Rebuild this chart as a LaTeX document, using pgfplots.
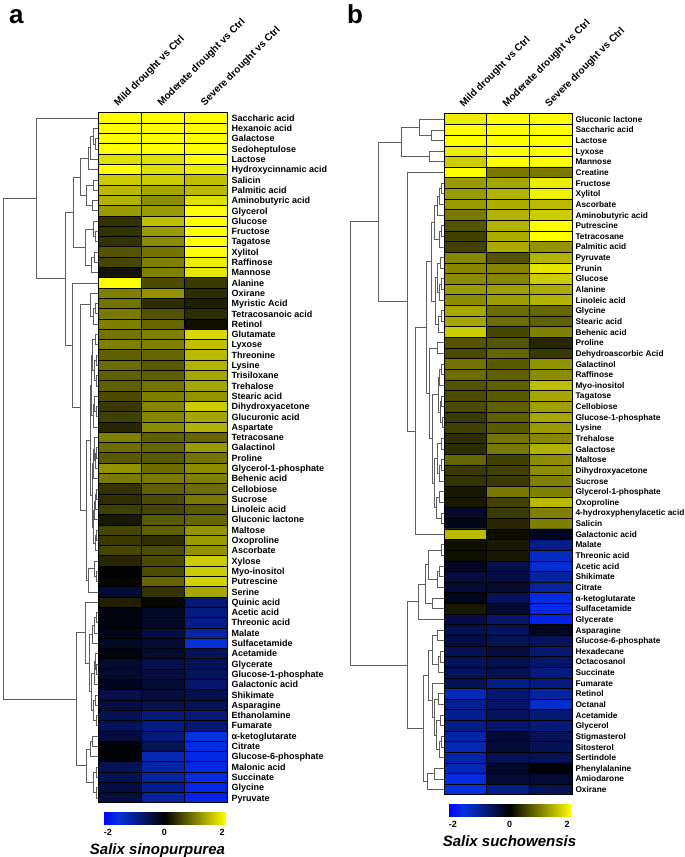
\documentclass[border=0pt]{standalone}
\usepackage{pgfplots}
\pgfplotsset{compat=1.18}
\usepackage{fontspec}
\setmainfont{Liberation Sans}
\pgfplotsset{colormap={bky}{rgb255(0cm)=(0,0,255) rgb255(1cm)=(5,50,222) rgb255(2cm)=(5,32,152) rgb255(3cm)=(5,16,76) rgb255(4cm)=(0,0,0) rgb255(8cm)=(255,255,0)}}
\definecolor{dgray}{RGB}{95,95,95}
\pgfplotsset{
  dend/.style={draw=dgray, line width=0.85pt, forget plot, mark=none},
  hm/.style={scale only axis, anchor=south west, xmin=-0.5, xmax=2.5,
    xtick={0,1,2},
    xticklabels={Mild drought vs Ctrl,Moderate drought vs Ctrl,Severe drought vs Ctrl},
    xticklabel pos=upper,
    xticklabel style={rotate=45, anchor=south west, font=\bfseries\fontsize{10}{12}\selectfont},
    yticklabel pos=right,
    major tick length=0pt, minor tick length=0pt,
    minor x tick num=1, minor y tick num=1,
    grid=minor,
    minor grid style={black, line width=0.8pt},
    axis on top, axis line style={black, line width=1pt},
    colormap name=bky, point meta min=-2, point meta max=2,
    colorbar horizontal},
  cbar/.style={scale only axis, width=123pt, height=12pt,
    xtick={-1.84,0,1.87}, xticklabels={-2,0,2}, grid=none,
    xticklabel style={font=\bfseries\fontsize{9}{10}\selectfont, inner sep=1pt, yshift=-4pt},
    major tick length=0pt, axis line style={draw=none},
    xlabel style={font=\bfseries\itshape\fontsize{15}{16}\selectfont, inner sep=0pt, yshift=-7pt}}
}
\begin{document}
\begin{tikzpicture}
\path[use as bounding box] (0,0) rectangle (685pt,857pt);
% ---------------- dendrograms (pixel coordinates) ----------------
\begin{axis}[at={(0pt,0pt)}, anchor=south west, scale only axis, width=685pt, height=857pt,
  xmin=0, xmax=685, ymin=0, ymax=857, y dir=reverse, hide axis, clip=false]
\node[anchor=base west, font=\bfseries\fontsize{26}{26}\selectfont, inner sep=0pt] at (axis cs:9,23) {a};
\node[anchor=base west, font=\bfseries\fontsize{26}{26}\selectfont, inner sep=0pt] at (axis cs:347,23) {b};
% panel a
\addplot[dend] coordinates {(98,138.8)(95,138.8)(95,149.1)(98,149.1)};
\addplot[dend] coordinates {(98,128.5)(93,128.5)(93,144.0)(95,144.0)};
\addplot[dend] coordinates {(93,136.2)(90,136.2)(90,159.4)(98,159.4)};
\addplot[dend] coordinates {(90,147.8)(88,147.8)(88,169.7)(98,169.7)};
\addplot[dend] coordinates {(98,180.0)(93,180.0)(93,190.3)(98,190.3)};
\addplot[dend] coordinates {(98,200.6)(92,200.6)(92,210.9)(98,210.9)};
\addplot[dend] coordinates {(93,185.2)(86,185.2)(86,205.8)(92,205.8)};
\addplot[dend] coordinates {(88,158.8)(80,158.8)(80,195.5)(86,195.5)};
\addplot[dend] coordinates {(98,231.5)(95,231.5)(95,241.8)(98,241.8)};
\addplot[dend] coordinates {(98,221.2)(93,221.2)(93,236.7)(95,236.7)};
\addplot[dend] coordinates {(98,252.1)(94,252.1)(94,262.4)(98,262.4)};
\addplot[dend] coordinates {(94,257.3)(91,257.3)(91,272.7)(98,272.7)};
\addplot[dend] coordinates {(93,229.0)(85,229.0)(85,265.0)(91,265.0)};
\addplot[dend] coordinates {(80,177.2)(73,177.2)(73,247.0)(85,247.0)};
\addplot[dend] coordinates {(98,303.6)(95,303.6)(95,313.9)(98,313.9)};
\addplot[dend] coordinates {(95,308.8)(93,308.8)(93,324.2)(98,324.2)};
\addplot[dend] coordinates {(98,293.3)(90,293.3)(90,316.5)(93,316.5)};
\addplot[dend] coordinates {(98,334.5)(95,334.5)(95,344.8)(98,344.8)};
\addplot[dend] coordinates {(98,355.1)(96,355.1)(96,365.4)(98,365.4)};
\addplot[dend] coordinates {(98,375.7)(96,375.7)(96,386.0)(98,386.0)};
\addplot[dend] coordinates {(96,360.3)(94,360.3)(94,380.9)(96,380.9)};
\addplot[dend] coordinates {(95,339.7)(92,339.7)(92,370.6)(94,370.6)};
\addplot[dend] coordinates {(98,406.6)(96,406.6)(96,416.9)(98,416.9)};
\addplot[dend] coordinates {(98,396.3)(94,396.3)(94,411.8)(96,411.8)};
\addplot[dend] coordinates {(94,404.1)(93,404.1)(93,427.2)(98,427.2)};
\addplot[dend] coordinates {(92,355.2)(91,355.2)(91,415.7)(93,415.7)};
\addplot[dend] coordinates {(98,447.8)(96,447.8)(96,458.1)(98,458.1)};
\addplot[dend] coordinates {(96,453.0)(95,453.0)(95,468.4)(98,468.4)};
\addplot[dend] coordinates {(98,437.5)(94,437.5)(94,460.7)(95,460.7)};
\addplot[dend] coordinates {(94,449.1)(93,449.1)(93,478.7)(98,478.7)};
\addplot[dend] coordinates {(98,489.0)(96,489.0)(96,499.3)(98,499.3)};
\addplot[dend] coordinates {(96,494.2)(95,494.2)(95,509.6)(98,509.6)};
\addplot[dend] coordinates {(95,501.9)(94,501.9)(94,519.9)(98,519.9)};
\addplot[dend] coordinates {(98,530.2)(96,530.2)(96,540.5)(98,540.5)};
\addplot[dend] coordinates {(96,535.4)(95,535.4)(95,550.8)(98,550.8)};
\addplot[dend] coordinates {(94,510.9)(93,510.9)(93,543.1)(95,543.1)};
\addplot[dend] coordinates {(93,463.9)(92,463.9)(92,527.0)(93,527.0)};
\addplot[dend] coordinates {(91,385.5)(90,385.5)(90,495.5)(92,495.5)};
\addplot[dend] coordinates {(98,571.4)(96,571.4)(96,581.7)(98,581.7)};
\addplot[dend] coordinates {(98,561.1)(94,561.1)(94,576.6)(96,576.6)};
\addplot[dend] coordinates {(94,568.9)(88,568.9)(88,592.0)(98,592.0)};
\addplot[dend] coordinates {(90,440.5)(86,440.5)(86,580.5)(88,580.5)};
\addplot[dend] coordinates {(90,304.9)(80,304.9)(80,510.5)(86,510.5)};
\addplot[dend] coordinates {(98,283.0)(72,283.0)(72,407.7)(80,407.7)};
\addplot[dend] coordinates {(73,212.1)(65,212.1)(65,345.4)(72,345.4)};
\addplot[dend] coordinates {(98,118.2)(36,118.2)(36,278.8)(65,278.8)};
\addplot[dend] coordinates {(98,612.6)(96,612.6)(96,622.9)(98,622.9)};
\addplot[dend] coordinates {(96,617.8)(94,617.8)(94,633.2)(98,633.2)};
\addplot[dend] coordinates {(94,625.5)(92,625.5)(92,643.5)(98,643.5)};
\addplot[dend] coordinates {(98,664.1)(96,664.1)(96,674.4)(98,674.4)};
\addplot[dend] coordinates {(98,653.8)(95,653.8)(95,669.3)(96,669.3)};
\addplot[dend] coordinates {(95,661.6)(94,661.6)(94,684.7)(98,684.7)};
\addplot[dend] coordinates {(98,695.0)(95,695.0)(95,705.3)(98,705.3)};
\addplot[dend] coordinates {(98,715.6)(96,715.6)(96,725.9)(98,725.9)};
\addplot[dend] coordinates {(95,700.2)(93,700.2)(93,720.8)(96,720.8)};
\addplot[dend] coordinates {(94,673.2)(91,673.2)(91,710.5)(93,710.5)};
\addplot[dend] coordinates {(92,634.5)(89,634.5)(89,691.9)(91,691.9)};
\addplot[dend] coordinates {(98,602.3)(85,602.3)(85,663.2)(89,663.2)};
\addplot[dend] coordinates {(98,736.2)(92,736.2)(92,746.5)(98,746.5)};
\addplot[dend] coordinates {(92,741.4)(90,741.4)(90,756.8)(98,756.8)};
\addplot[dend] coordinates {(98,767.1)(96,767.1)(96,777.4)(98,777.4)};
\addplot[dend] coordinates {(98,787.7)(96,787.7)(96,798.0)(98,798.0)};
\addplot[dend] coordinates {(96,772.3)(93,772.3)(93,792.9)(96,792.9)};
\addplot[dend] coordinates {(90,749.1)(86,749.1)(86,782.6)(93,782.6)};
\addplot[dend] coordinates {(85,632.8)(76,632.8)(76,765.9)(86,765.9)};
\addplot[dend] coordinates {(36,198.5)(3,198.5)(3,699.4)(76,699.4)};
% panel b
\addplot[dend] coordinates {(444,130.0)(431,130.0)(431,140.6)(444,140.6)};
\addplot[dend] coordinates {(444,119.3)(419,119.3)(419,135.3)(431,135.3)};
\addplot[dend] coordinates {(444,151.2)(429,151.2)(429,161.9)(444,161.9)};
\addplot[dend] coordinates {(419,127.3)(401,127.3)(401,156.6)(429,156.6)};
\addplot[dend] coordinates {(444,183.2)(441,183.2)(441,193.8)(444,193.8)};
\addplot[dend] coordinates {(441,188.5)(439,188.5)(439,204.5)(444,204.5)};
\addplot[dend] coordinates {(439,196.5)(437,196.5)(437,215.1)(444,215.1)};
\addplot[dend] coordinates {(444,225.7)(441,225.7)(441,236.4)(444,236.4)};
\addplot[dend] coordinates {(441,231.1)(439,231.1)(439,247.0)(444,247.0)};
\addplot[dend] coordinates {(437,205.8)(434,205.8)(434,239.1)(439,239.1)};
\addplot[dend] coordinates {(444,257.6)(440,257.6)(440,268.3)(444,268.3)};
\addplot[dend] coordinates {(444,278.9)(441,278.9)(441,289.6)(444,289.6)};
\addplot[dend] coordinates {(441,284.3)(439,284.3)(439,300.2)(444,300.2)};
\addplot[dend] coordinates {(440,263.0)(437,263.0)(437,292.3)(439,292.3)};
\addplot[dend] coordinates {(444,310.8)(441,310.8)(441,321.5)(444,321.5)};
\addplot[dend] coordinates {(441,316.2)(438,316.2)(438,332.1)(444,332.1)};
\addplot[dend] coordinates {(437,277.7)(435,277.7)(435,324.2)(438,324.2)};
\addplot[dend] coordinates {(434,222.5)(431,222.5)(431,301.0)(435,301.0)};
\addplot[dend] coordinates {(444,342.8)(437,342.8)(437,353.4)(444,353.4)};
\addplot[dend] coordinates {(444,364.0)(441,364.0)(441,374.7)(444,374.7)};
\addplot[dend] coordinates {(441,369.4)(439,369.4)(439,385.3)(444,385.3)};
\addplot[dend] coordinates {(444,396.0)(441,396.0)(441,406.6)(444,406.6)};
\addplot[dend] coordinates {(444,417.2)(442,417.2)(442,427.9)(444,427.9)};
\addplot[dend] coordinates {(441,401.3)(440,401.3)(440,422.6)(442,422.6)};
\addplot[dend] coordinates {(439,377.4)(438,377.4)(438,412.0)(440,412.0)};
\addplot[dend] coordinates {(444,438.5)(441,438.5)(441,449.2)(444,449.2)};
\addplot[dend] coordinates {(444,459.8)(441,459.8)(441,470.4)(444,470.4)};
\addplot[dend] coordinates {(441,465.1)(439,465.1)(439,481.1)(444,481.1)};
\addplot[dend] coordinates {(441,443.9)(437,443.9)(437,473.1)(439,473.1)};
\addplot[dend] coordinates {(444,491.7)(439,491.7)(439,502.4)(444,502.4)};
\addplot[dend] coordinates {(444,513.0)(441,513.0)(441,523.6)(444,523.6)};
\addplot[dend] coordinates {(439,497.1)(436,497.1)(436,518.3)(441,518.3)};
\addplot[dend] coordinates {(437,458.5)(434,458.5)(434,507.7)(436,507.7)};
\addplot[dend] coordinates {(438,394.7)(432,394.7)(432,483.1)(434,483.1)};
\addplot[dend] coordinates {(437,348.1)(429,348.1)(429,438.9)(432,438.9)};
\addplot[dend] coordinates {(431,261.8)(426,261.8)(426,393.5)(429,393.5)};
\addplot[dend] coordinates {(426,327.7)(415,327.7)(415,534.3)(444,534.3)};
\addplot[dend] coordinates {(444,172.5)(407,172.5)(407,431.0)(415,431.0)};
\addplot[dend] coordinates {(401,142.0)(378,142.0)(378,301.8)(407,301.8)};
\addplot[dend] coordinates {(444,544.9)(441,544.9)(441,555.6)(444,555.6)};
\addplot[dend] coordinates {(444,566.2)(439,566.2)(439,576.8)(444,576.8)};
\addplot[dend] coordinates {(439,571.5)(437,571.5)(437,587.5)(444,587.5)};
\addplot[dend] coordinates {(441,550.3)(428,550.3)(428,579.5)(437,579.5)};
\addplot[dend] coordinates {(444,598.1)(432,598.1)(432,608.8)(444,608.8)};
\addplot[dend] coordinates {(428,564.9)(425,564.9)(425,603.5)(432,603.5)};
\addplot[dend] coordinates {(425,584.2)(418,584.2)(418,619.4)(444,619.4)};
\addplot[dend] coordinates {(444,630.0)(437,630.0)(437,640.7)(444,640.7)};
\addplot[dend] coordinates {(444,651.3)(440,651.3)(440,662.0)(444,662.0)};
\addplot[dend] coordinates {(440,656.7)(438,656.7)(438,672.6)(444,672.6)};
\addplot[dend] coordinates {(437,635.4)(432,635.4)(432,664.7)(438,664.7)};
\addplot[dend] coordinates {(444,693.9)(438,693.9)(438,704.5)(444,704.5)};
\addplot[dend] coordinates {(444,715.2)(440,715.2)(440,725.8)(444,725.8)};
\addplot[dend] coordinates {(444,736.4)(441,736.4)(441,747.1)(444,747.1)};
\addplot[dend] coordinates {(441,741.8)(439,741.8)(439,757.7)(444,757.7)};
\addplot[dend] coordinates {(440,720.5)(436,720.5)(436,749.8)(439,749.8)};
\addplot[dend] coordinates {(438,699.2)(434,699.2)(434,735.2)(436,735.2)};
\addplot[dend] coordinates {(444,683.2)(432,683.2)(432,717.2)(434,717.2)};
\addplot[dend] coordinates {(432,650.1)(428,650.1)(428,700.2)(432,700.2)};
\addplot[dend] coordinates {(444,768.4)(434,768.4)(434,779.0)(444,779.0)};
\addplot[dend] coordinates {(434,773.7)(427,773.7)(427,789.6)(444,789.6)};
\addplot[dend] coordinates {(428,675.2)(423,675.2)(423,781.7)(427,781.7)};
\addplot[dend] coordinates {(418,601.8)(407,601.8)(407,728.5)(423,728.5)};
\addplot[dend] coordinates {(378,221.9)(350,221.9)(350,665.2)(407,665.2)};
\end{axis}
% ---------------- heatmap a ----------------
\begin{axis}[hm, at={(98pt,54pt)}, width=130pt, height=690pt, ymin=0.5, ymax=67.5,
  ytick={1,...,67},
  yticklabels={Pyruvate,Glycine,Succinate,Malonic acid,Glucose-6-phosphate,Citrate,α-ketoglutarate,Fumarate,Ethanolamine,Asparagine,Shikimate,Galactonic acid,Glucose-1-phosphate,Glycerate,Acetamide,Sulfacetamide,Malate,Threonic acid,Acetic acid,Quinic acid,Serine,Putrescine,Myo-inositol,Xylose,Ascorbate,Oxoproline,Maltose,Gluconic lactone,Linoleic acid,Sucrose,Cellobiose,Behenic acid,Glycerol-1-phosphate,Proline,Galactinol,Tetracosane,Aspartate,Glucuronic acid,Dihydroxyacetone,Stearic acid,Trehalose,Trisiloxane,Lysine,Threonine,Lyxose,Glutamate,Retinol,Tetracosanoic acid,Myristic Acid,Oxirane,Alanine,Mannose,Raffinose,Xylitol,Tagatose,Fructose,Glucose,Glycerol,Aminobutyric acid,Palmitic acid,Salicin,Hydroxycinnamic acid,Lactose,Sedoheptulose,Galactose,Hexanoic acid,Saccharic acid},
  yticklabel style={font=\bfseries\fontsize{9}{10}\selectfont, anchor=west, text height=6.6pt, text depth=0.2pt, inner ysep=0pt},
  colorbar style={cbar, xshift=5pt, xlabel={Salix sinopurpurea}, xlabel style={xshift=-7pt}}]
\addplot[matrix plot*, mesh/cols=3, point meta=explicit] table[meta=c] {
x y c
0 67 2
1 67 2
2 67 2
0 66 2
1 66 2
2 66 2
0 65 2
1 65 2
2 65 2
0 64 2
1 64 2
2 64 2
0 63 1.75
1 63 1.75
2 63 2
0 62 2
1 62 1.75
2 62 1.85
0 61 1.6
1 61 1.6
2 61 1.5
0 60 1.45
1 60 1.3
2 60 1.45
0 59 1.4
1 59 1.1
2 59 1.75
0 58 1.2
1 58 1.2
2 58 2
0 57 0.4
1 57 1.5
2 57 2
0 56 0.4
1 56 1.2
2 56 2
0 55 0.4
1 55 1.1
2 55 2
0 54 0.65
1 54 0.9
2 54 2
0 53 0.55
1 53 1.0
2 53 1.85
0 52 0.15
1 52 1.0
2 52 1.8
0 51 2
1 51 0.6
2 51 0.45
0 50 1.0
1 50 1.15
2 50 0.35
0 49 0.9
1 49 0.35
2 49 0.25
0 48 0.95
1 48 0.65
2 48 0.35
0 47 1.0
1 47 0.8
2 47 0.1
0 46 0.9
1 46 1.0
2 46 1.7
0 45 1.0
1 45 1.0
2 45 1.5
0 44 0.75
1 44 0.8
2 44 1.45
0 43 0.85
1 43 0.7
2 43 1.4
0 42 0.75
1 42 0.75
2 42 1.3
0 41 0.75
1 41 0.9
2 41 1.3
0 40 0.6
1 40 1.0
2 40 1.15
0 39 0.45
1 39 1.05
2 39 1.6
0 38 0.5
1 38 1.05
2 38 1.3
0 37 0.3
1 37 1.1
2 37 1.4
0 36 1.0
1 36 0.75
2 36 0.8
0 35 0.85
1 35 0.8
2 35 1.2
0 34 0.7
1 34 0.7
2 34 0.9
0 33 1.15
1 33 0.85
2 33 1.1
0 32 0.95
1 32 0.95
2 32 1.0
0 31 0.4
1 31 0.75
2 31 0.85
0 30 0.35
1 30 0.6
2 30 0.95
0 29 0.5
1 29 0.55
2 29 0.7
0 28 0.2
1 28 0.7
2 28 0.8
0 27 0.55
1 27 0.75
2 27 1.15
0 26 0.45
1 26 0.35
2 26 1.2
0 25 0.55
1 25 0.6
2 25 1.15
0 24 0.3
1 24 0.6
2 24 1.6
0 23 0.02
1 23 0.6
2 23 1.6
0 22 0.05
1 22 0.8
2 22 1.65
0 21 -0.35
1 21 0.4
2 21 1.3
0 20 0.25
1 20 0.05
2 20 -0.75
0 19 -0.1
1 19 -0.25
2 19 -0.85
0 18 -0.1
1 18 -0.25
2 18 -0.9
0 17 -0.15
1 17 -0.45
2 17 -1.1
0 16 -0.25
1 16 -0.35
2 16 -1.45
0 15 -0.1
1 15 -0.3
2 15 -0.6
0 14 -0.3
1 14 -0.5
2 14 -0.55
0 13 -0.3
1 13 -0.4
2 13 -0.6
0 12 -0.2
1 12 -0.35
2 12 -0.7
0 11 -0.5
1 11 -0.4
2 11 -0.5
0 10 -0.45
1 10 -0.5
2 10 -0.6
0 9 -0.55
1 9 -0.8
2 9 -0.8
0 8 -0.6
1 8 -0.85
2 8 -0.75
0 7 -0.4
1 7 -0.8
2 7 -1.5
0 6 -0.05
1 6 -0.55
2 6 -1.55
0 5 -0.05
1 5 -1.2
2 5 -1.6
0 4 -0.55
1 4 -1.1
2 4 -1.6
0 3 -0.55
1 3 -1.1
2 3 -1.55
0 2 -0.45
1 2 -0.95
2 2 -1.6
0 1 -0.4
1 1 -1.05
2 1 -1.65
};
\end{axis}
% ---------------- heatmap b ----------------
\begin{axis}[hm, at={(444pt,62pt)}, width=128pt, height=681pt, ymin=0.5, ymax=64.5,
  ytick={1,...,64},
  yticklabels={Oxirane,Amiodarone,Phenylalanine,Sertindole,Sitosterol,Stigmasterol,Glycerol,Acetamide,Octanal,Retinol,Fumarate,Succinate,Octacosanol,Hexadecane,Glucose-6-phosphate,Asparagine,Glycerate,Sulfacetamide,α-ketoglutarate,Citrate,Shikimate,Acetic acid,Threonic acid,Malate,Galactonic acid,Salicin,4-hydroxyphenylacetic acid,Oxoproline,Glycerol-1-phosphate,Sucrose,Dihydroxyacetone,Maltose,Galactose,Trehalose,Lysine,Glucose-1-phosphate,Cellobiose,Tagatose,Myo-inositol,Raffinose,Galactinol,Dehydroascorbic Acid,Proline,Behenic acid,Stearic acid,Glycine,Linoleic acid,Alanine,Glucose,Prunin,Pyruvate,Palmitic acid,Tetracosane,Putrescine,Aminobutyric acid,Ascorbate,Xylitol,Fructose,Creatine,Mannose,Lyxose,Lactose,Saccharic acid,Gluconic lactone},
  yticklabel style={font=\bfseries\fontsize{8.3}{9}\selectfont, anchor=west, text height=6.1pt, text depth=0.2pt, inner ysep=0pt},
  colorbar style={cbar, xshift=4pt, xlabel={Salix suchowensis}}]
\addplot[matrix plot*, mesh/cols=3, point meta=explicit] table[meta=c] {
x y c
0 64 1.85
1 64 2
2 64 2
0 63 2
1 63 2
2 63 2
0 62 2
1 62 2
2 62 2
0 61 1.85
1 61 2
2 61 2
0 60 1.6
1 60 2
2 60 2
0 59 2
1 59 0.95
2 59 0.95
0 58 1.2
1 58 1.3
2 58 1.85
0 57 1.2
1 57 1.4
2 57 1.9
0 56 1.2
1 56 1.35
2 56 1.45
0 55 0.95
1 55 1.4
2 55 1.6
0 54 0.65
1 54 1.4
2 54 2
0 53 0.5
1 53 1.35
2 53 2
0 52 0.5
1 52 1.35
2 52 1.15
0 51 1.05
1 51 0.65
2 51 1.4
0 50 1.05
1 50 1.05
2 50 1.8
0 49 1.1
1 49 1.05
2 49 1.6
0 48 1.2
1 48 1.25
2 48 1.35
0 47 1.1
1 47 1.25
2 47 1.4
0 46 1.3
1 46 0.85
2 46 0.8
0 45 1.3
1 45 0.85
2 45 0.75
0 44 1.6
1 44 0.55
2 44 1.0
0 43 0.65
1 43 0.65
2 43 0.3
0 42 0.6
1 42 0.8
2 42 0.45
0 41 0.9
1 41 0.7
2 41 1.15
0 40 0.85
1 40 0.75
2 40 1.1
0 39 0.65
1 39 0.75
2 39 1.5
0 38 0.6
1 38 0.7
2 38 1.3
0 37 0.6
1 37 0.75
2 37 1.25
0 36 0.45
1 36 0.75
2 36 1.3
0 35 0.5
1 35 0.7
2 35 1.2
0 34 0.35
1 34 0.9
2 34 1.05
0 33 0.35
1 33 0.95
2 33 1.4
0 32 0.8
1 32 0.5
2 32 1.1
0 31 0.45
1 31 0.5
2 31 1.1
0 30 0.4
1 30 0.45
2 30 1.0
0 29 0.2
1 29 0.95
2 29 1.0
0 28 0.2
1 28 0.5
2 28 1.45
0 27 -0.3
1 27 0.45
2 27 1.0
0 26 -0.2
1 26 0.3
2 26 1.0
0 25 1.45
1 25 0.1
2 25 -0.2
0 24 0.12
1 24 0.2
2 24 -0.9
0 23 0.12
1 23 0.2
2 23 -1.3
0 22 -0.2
1 22 -0.5
2 22 -1.4
0 21 -0.4
1 21 -0.45
2 21 -1.05
0 20 -0.35
1 20 -0.3
2 20 -1.05
0 19 -0.15
1 19 -0.6
2 19 -1.55
0 18 0.2
1 18 -0.3
2 18 -1.6
0 17 -0.45
1 17 -0.7
2 17 -1.65
0 16 -0.5
1 16 -0.6
2 16 -0.2
0 15 -0.45
1 15 -0.55
2 15 -0.6
0 14 -0.55
1 14 -0.4
2 14 -0.75
0 13 -0.6
1 13 -0.5
2 13 -0.7
0 12 -0.6
1 12 -0.5
2 12 -0.85
0 11 -0.55
1 11 -0.9
2 11 -0.85
0 10 -1.25
1 10 -0.75
2 10 -1.05
0 9 -0.95
1 9 -0.7
2 9 -1.35
0 8 -0.95
1 8 -0.6
2 8 -0.75
0 7 -0.9
1 7 -0.7
2 7 -0.8
0 6 -1.1
1 6 -0.35
2 6 -0.55
0 5 -1.2
1 5 -0.35
2 5 -0.55
0 4 -1.15
1 4 -0.55
2 4 -0.55
0 3 -1.2
1 3 -0.25
2 3 -0.05
0 2 -1.55
1 2 -0.35
2 2 -0.35
0 1 -1.5
1 1 -0.9
2 1 -0.55
};
\end{axis}
\end{tikzpicture}
\end{document}
